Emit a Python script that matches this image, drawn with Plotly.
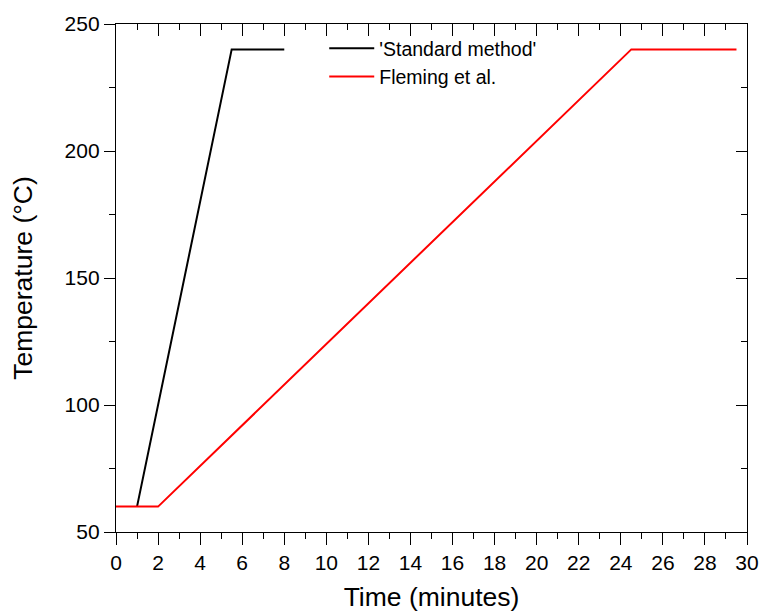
import plotly.graph_objects as go

std_time = [1, 5.5, 8]
std_temp = [60, 240, 240]
fleming_time = [0, 2, 24.5, 29.5]
fleming_temp = [60, 60, 240, 240]

x_ticks = list(range(0, 31, 2))
y_ticks = [50, 100, 150, 200, 250]

FONT = "Liberation Sans, Arial, sans-serif"

fig = go.Figure()
fig.add_trace(go.Scatter(x=std_time, y=std_temp, mode="lines", name="'Standard method'",
                         line=dict(color="black", width=2)))
fig.add_trace(go.Scatter(x=fleming_time, y=fleming_temp, mode="lines", name="Fleming et al.",
                         line=dict(color="red", width=2)))
fig.add_trace(go.Scatter(x=[0], y=[50], xaxis="x2", yaxis="y2", mode="markers",
                         marker=dict(opacity=0), showlegend=False, hoverinfo="skip"))

axis_common = dict(showgrid=False, zeroline=False, showline=True, linecolor="black",
                   linewidth=1.3, tickcolor="black", tickwidth=1.3, automargin=False)

fig.update_layout(
    width=761, height=612,
    margin=dict(l=116, r=14, t=24, b=80),
    paper_bgcolor="white", plot_bgcolor="white",
    font=dict(family=FONT, color="black", size=21),
    showlegend=True,
    legend=dict(x=0.33, y=0.99, xanchor="left", yanchor="top",
                bgcolor="rgba(0,0,0,0)", font=dict(size=19.5, family=FONT),
                tracegroupgap=0, itemwidth=45),
    xaxis=dict(range=[0, 30], tickvals=x_ticks, ticks="outside", ticklen=12,
               minor=dict(ticks="outside", ticklen=6, dtick=1, tickcolor="black", tickwidth=1.3),
               title=dict(text="Time (minutes)", font=dict(size=26.5), standoff=16),
               tickfont=dict(size=21), **axis_common),
    yaxis=dict(range=[50, 250], tickvals=y_ticks, ticks="outside", ticklen=11,
               minor=dict(ticks="outside", ticklen=6, dtick=25, tickcolor="black", tickwidth=1.3),
               title=dict(text="Temperature (°C)", font=dict(size=26.5), standoff=24),
               tickfont=dict(size=21), **axis_common),
    xaxis2=dict(range=[0, 30], overlaying="x", side="top", anchor="y", tickvals=x_ticks,
                ticks="inside", ticklen=12, showticklabels=False,
                minor=dict(ticks="inside", ticklen=6, dtick=1, tickcolor="black", tickwidth=1.3),
                **axis_common),
    yaxis2=dict(range=[50, 250], overlaying="y", side="right", anchor="x", tickvals=y_ticks,
                ticks="inside", ticklen=11, showticklabels=False,
                minor=dict(ticks="inside", ticklen=6, dtick=25, tickcolor="black", tickwidth=1.3),
                **axis_common),
)

fig.write_html("out.html")
